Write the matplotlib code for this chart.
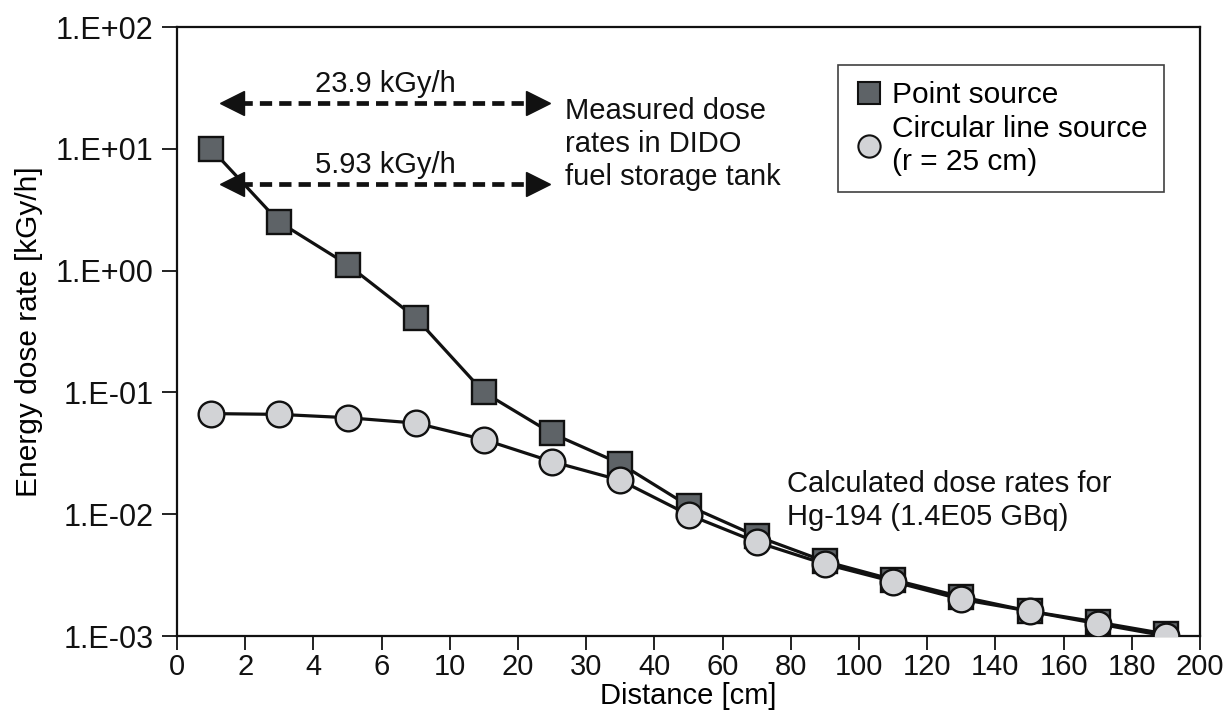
import matplotlib
matplotlib.use('Agg')
import matplotlib.pyplot as plt
import numpy as np
from matplotlib import font_manager
from matplotlib.lines import Line2D

# data
tick_labels = ['0', '2', '4', '6', '10', '20', '30', '40', '60', '80',
               '100', '120', '140', '160', '180', '200']
distance = [1, 3, 5, 7, 15, 25, 35, 50, 70, 90, 110, 130, 150, 170, 190]
point_src = [10.0, 2.5, 1.12, 0.41, 0.10, 0.046, 0.026, 0.0117, 0.0066,
             0.0041, 0.0029, 0.0021, 0.0016, 0.0013, 0.00104]
circle_src = [0.067, 0.066, 0.062, 0.056, 0.041, 0.027, 0.019, 0.0099,
              0.0059, 0.0039, 0.0028, 0.0020, 0.0016, 0.00126, 0.0010]
measured_labels = ['23.9 kGy/h', '5.93 kGy/h']
measured_levels = [23.9, 5.15]

plt.rcParams['font.family'] = ['Liberation Sans', 'DejaVu Sans']

# narrow font for the x axis if one is around
names = {f.name for f in font_manager.fontManager.ttflist}
narrow_kw = {'family': ['Liberation Sans', 'DejaVu Sans']}
if 'Liberation Sans Narrow' in names:
    narrow_kw = {'family': ['Liberation Sans Narrow', 'DejaVu Sans']}

INK = '#111111'
fig = plt.figure(figsize=(12.26, 7.22), dpi=100)
ax = fig.add_axes([0.1444, 0.1191, 0.8344, 0.8435])

# x axis is not linear: ticks equally spaced, points sit half-way between
xpos = np.arange(len(distance)) + 0.5

ax.plot(xpos, point_src, color=INK, lw=2.3, marker='s', ms=17.5,
        mfc='#5e6367', mec=INK, mew=1.7, zorder=3)
ax.plot(xpos, circle_src, color=INK, lw=2.3, marker='o', ms=18.5,
        mfc='#d2d3d6', mec=INK, mew=1.7, zorder=4)

ax.set_yscale('log')
ax.set_ylim(1e-3, 1e2)
ax.set_xlim(0, len(tick_labels) - 1)
ax.set_yticks([1e-3, 1e-2, 1e-1, 1e0, 1e1, 1e2])
ax.set_yticklabels(['1.E-03', '1.E-02', '1.E-01', '1.E+00', '1.E+01', '1.E+02'],
                   fontsize=22)
ax.yaxis.set_minor_locator(matplotlib.ticker.NullLocator())
ax.set_xticks(np.arange(len(tick_labels)))
ax.set_xticklabels(tick_labels, fontsize=21, **narrow_kw)
ax.tick_params(axis='both', direction='out', width=1.3, colors=INK)
ax.tick_params(axis='y', length=10.5, pad=6.5)
ax.tick_params(axis='x', length=10, pad=2)
for s in ax.spines.values():
    s.set_linewidth(1.6)
    s.set_color(INK)

ax.set_xlabel('Distance [cm]', fontsize=21, labelpad=1, **narrow_kw)
ax.set_ylabel('Energy dose rate [kGy/h]', fontsize=21.5)
ax.yaxis.set_label_coords(-0.131, 0.5)

# measured dose rate arrows
x0, x1 = 0.63, 5.47
for lab, lev in zip(measured_labels, measured_levels):
    ax.plot([x0 + 0.3, x1 - 0.3], [lev, lev], color=INK, lw=3.4,
            ls=(0, (2.6, 1.5)), dash_capstyle='butt', zorder=5)
    ax.plot([x0 + 0.18], [lev], marker='<', ms=17, color=INK, zorder=5)
    ax.plot([x1 - 0.18], [lev], marker='>', ms=17, color=INK, zorder=5)
    ax.annotate(lab, ((x0 + x1) / 2, lev), xytext=(0, 7.5),
                textcoords='offset points', ha='center', va='baseline',
                fontsize=21, color=INK)

ax.text(5.69, 26.6, 'Measured dose\nrates in DIDO\nfuel storage tank',
        ha='left', va='top', fontsize=21, linespacing=1.22, color=INK)
ax.text(8.94, 0.0232, 'Calculated dose rates for\nHg-194 (1.4E05 GBq)',
        ha='left', va='top', fontsize=21, linespacing=1.22, color=INK)

handles = [
    Line2D([], [], ls='none', marker='s', ms=16, mfc='#5e6367', mec=INK, mew=1.5),
    Line2D([], [], ls='none', marker='o', ms=16, mfc='#d2d3d6', mec=INK, mew=1.5),
]
leg = ax.legend(handles, ['Point source', 'Circular line source\n(r = 25 cm)'],
                loc='upper left', bbox_to_anchor=(0.646, 0.938), fontsize=21.5,
                frameon=True, fancybox=False, edgecolor=INK,
                handletextpad=0.25, handlelength=1.0, borderpad=0.55,
                borderaxespad=0, labelspacing=0.2)
leg.get_frame().set_linewidth(1.2)
for t in leg.get_texts():
    t.set_linespacing(1.2)

fig.savefig('out.png', dpi=100)
